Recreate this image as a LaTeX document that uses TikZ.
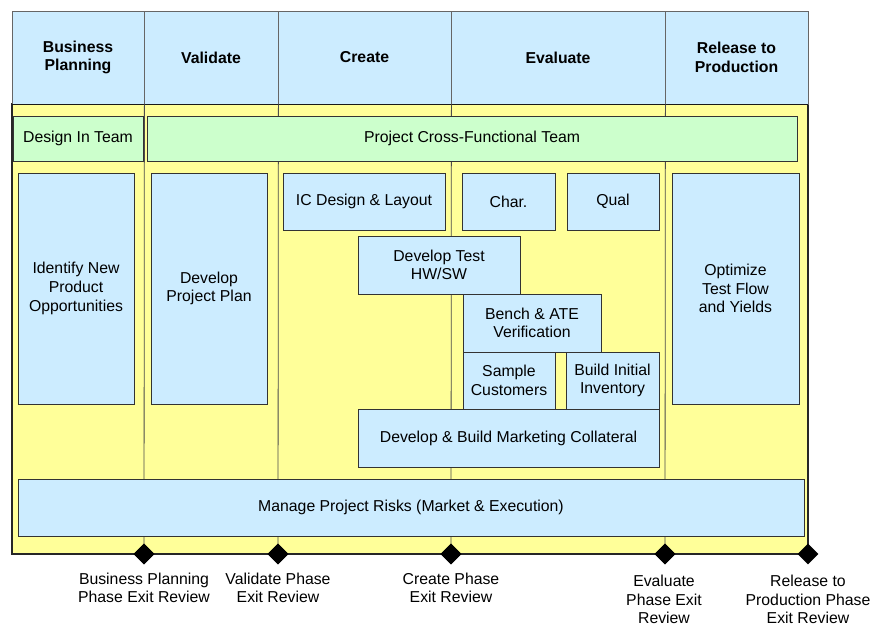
\documentclass[tikz,border=0pt]{standalone}
\usepackage{fontspec}
\setmainfont{Liberation Sans}
\usetikzlibrary{shapes.geometric}
\definecolor{hblue}{HTML}{CCECFF}
\definecolor{pyellow}{HTML}{FFFF99}
\definecolor{pgreen}{HTML}{CCFFCC}
\newcommand{\bx}[7][]{\node[box,#1,minimum width={(#5-#3)*1pt},minimum height={(#6-#4)*1pt}] (#2) at ({(#3+#5)/2},{(#4+#6)/2}) {#7};}
\tikzset{
  box/.style={draw=black!80,line width=0.8pt,fill=hblue,inner sep=0pt,align=center,rectangle},
  head/.style={draw=black!60,fill=hblue,font=\fontsize{15.8}{18.6}\selectfont\bfseries},
  green/.style={fill=pgreen},
  frame/.style={fill=pyellow,draw=black!85,line width=1.4pt},
  colline/.style={draw=black!70,line width=0.8pt},
  ms/.style={diamond,fill=black,draw=none,minimum size=21pt,inner sep=0pt},
  lbl/.style={anchor=north,align=center,inner sep=0pt,font=\fontsize{15.8}{18.4}\selectfont}
}
\begin{document}
\begin{tikzpicture}[x=1pt,y=-1pt,font=\fontsize{15.8}{18.6}\selectfont]
\useasboundingbox (0,0) rectangle (873,625);
% frame
\bx[frame]{frame}{12}{104}{808}{554}{}
% header
\bx[head]{h1}{12}{11}{144}{104}{Business\\Planning}
\bx[head]{h2}{144}{11}{278}{104}{Validate}
\bx[head]{h3}{278}{11}{451}{104}{Create}
\bx[head]{h4}{451}{11}{665}{104}{Evaluate}
\bx[head]{h5}{665}{11}{808}{104}{Release to\\Production}
\draw[black!90,line width=1.6pt] (h1.south west) -- (h5.south east);
% column lines and milestones
\node[ms] (d1) at (144,554) {};
\node[ms] (d2) at (278,554) {};
\node[ms] (d3) at (451,554) {};
\node[ms] (d4) at (665,554) {};
\node[ms] (d5) at (808,554) {};
\draw[colline] (h1.south east) -- (d1.center);
\draw[colline] (h2.south east) -- (d2.center);
\draw[colline] (h3.south east) -- (d3.center);
\draw[colline] (h4.south east) -- (d4.center);
\node[ms] at (d1) {};
\node[ms] at (d2) {};
\node[ms] at (d3) {};
\node[ms] at (d4) {};
% teams
\bx[green]{dit}{13}{116}{143}{161}{Design In Team}
\bx[green]{pcf}{147}{116}{797}{161}{Project Cross-Functional Team}
% tasks
\bx{idn}{18}{173}{134}{404}{Identify New\\Product\\Opportunities}
\bx{dpp}{151}{173}{267}{404}{Develop\\Project Plan}
\bx{icd}{283}{173}{445}{230}{IC Design \& Layout}
\bx{chr}{462}{173}{555}{230}{Char.}
\bx{qul}{567}{173}{659}{230}{Qual}
\bx{opt}{672}{173}{799}{404}{Optimize\\Test Flow\\and Yields}
\bx{dth}{358}{236}{520}{294}{Develop Test\\HW/SW}
\bx{bat}{463}{294}{601}{352}{Bench \& ATE\\Verification}
\bx{smp}{463}{352}{555}{409}{Sample\\Customers}
\bx{bii}{566}{352}{659}{409}{Build Initial\\Inventory}
\bx{mkt}{358}{409}{659}{467}{Develop \& Build Marketing Collateral}
\bx{rsk}{18}{479}{804}{536}{Manage Project Risks (Market \& Execution)}
% milestone labels
\node[lbl] (l1) at (144,572.5) {Business Planning\\Phase Exit Review};
\node[lbl] (l2) at (278,572.5) {Validate Phase\\Exit Review};
\node[lbl] (l3) at (451,572.5) {Create Phase\\Exit Review};
\node[lbl] (l4) at (664,575) {Evaluate\\Phase Exit\\Review};
\node[lbl] (l5) at (808,575) {Release to\\Production Phase\\Exit Review};
\end{tikzpicture}
\end{document}
